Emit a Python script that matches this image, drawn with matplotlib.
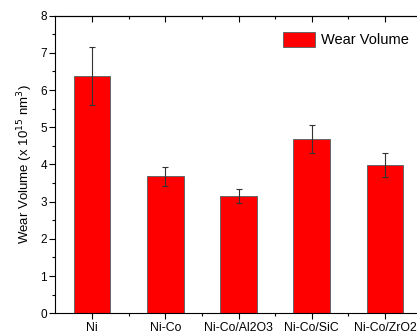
import matplotlib
matplotlib.use("Agg")
import matplotlib.pyplot as plt
from matplotlib.ticker import MultipleLocator, FixedLocator

categories = ["Ni", "Ni-Co", "Ni-Co/Al2O3", "Ni-Co/SiC", "Ni-Co/ZrO2"]
wear_volume = [6.38, 3.68, 3.15, 4.69, 3.98]
wear_error = [0.77, 0.26, 0.19, 0.37, 0.32]

plt.rcParams['font.family'] = ['Liberation Sans', 'DejaVu Sans']

fig = plt.figure(figsize=(4.17, 3.33), dpi=100)
ax = fig.add_axes([0.1326, 0.0592, 0.8787, 0.8937])

pos = list(range(1, len(categories) + 1))
ax.bar(pos, wear_volume, width=0.5, color='#ff0000', edgecolor='#666666',
       linewidth=0.7, label='Wear Volume', zorder=2)
ax.errorbar(pos, wear_volume, yerr=wear_error, fmt='none', ecolor='#333333',
            elinewidth=0.8, capsize=2, capthick=0.8, zorder=3)

ax.set_xlim(0.5, 5.5)
ax.set_ylim(0, 8)
ax.set_xticks(pos)
ax.set_xticklabels(categories, fontsize=8.8)
ax.xaxis.set_minor_locator(FixedLocator([1.5, 2.5, 3.5, 4.5]))
ax.yaxis.set_major_locator(MultipleLocator(1))
ax.yaxis.set_minor_locator(MultipleLocator(0.5))
ax.tick_params(axis='both', which='major', direction='out', length=4, width=0.8, pad=2)
ax.tick_params(axis='both', which='minor', direction='out', length=2, width=0.8)
ax.tick_params(axis='y', labelsize=8.5)

top = ax.secondary_xaxis('top')
top.set_xticks(pos)
top.set_xticklabels([])
top.xaxis.set_minor_locator(FixedLocator([1.5, 2.5, 3.5, 4.5]))
top.tick_params(which='major', direction='in', length=4, width=0.8)
top.tick_params(which='minor', direction='in', length=2, width=0.8)

right = ax.secondary_yaxis('right')
right.set_yticks(range(0, 9))
right.set_yticklabels([])
right.tick_params(which='major', direction='in', length=3, width=0.8)

for s in ax.spines.values():
    s.set_linewidth(0.8)

ax.set_ylabel("Wear Volume (x 10$^{15}$ nm$^3$)", fontsize=9.5, labelpad=4)

leg = ax.legend(loc='upper right', bbox_to_anchor=(1.0, 0.99), frameon=False,
                fontsize=10.5, handlelength=2.2, handleheight=1.2, handletextpad=0.4)

fig.savefig("out.png", dpi=100)
